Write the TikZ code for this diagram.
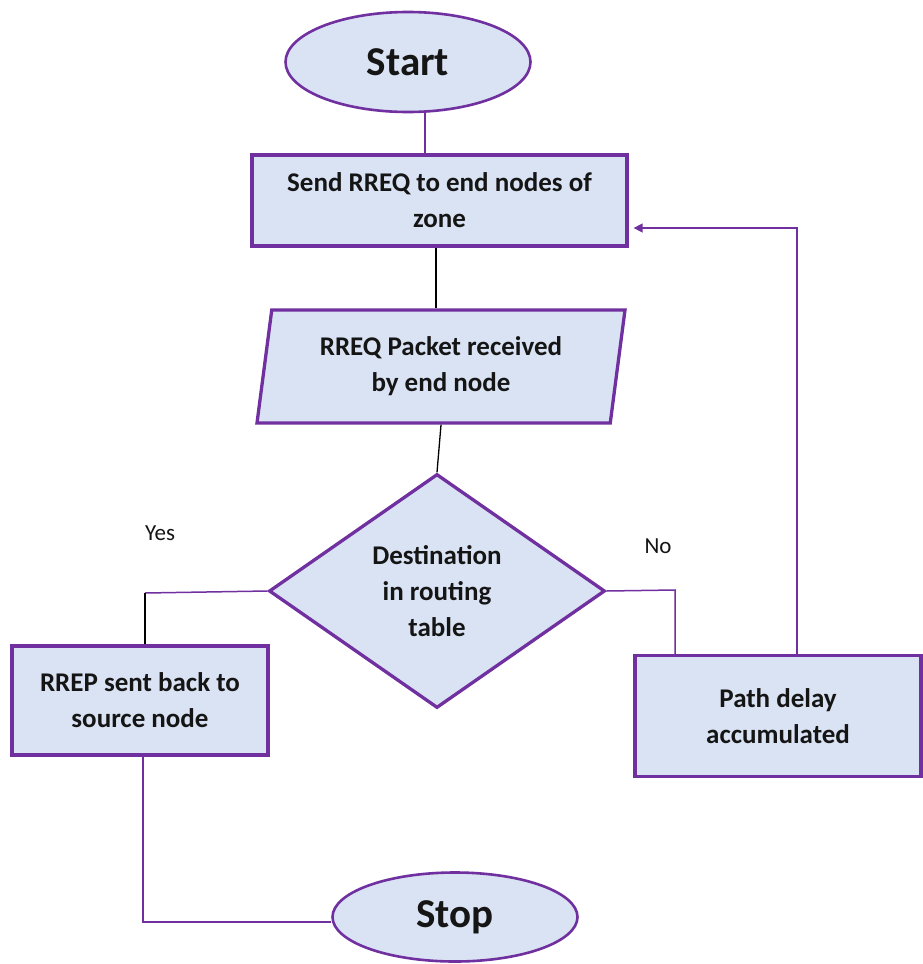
\documentclass[tikz,border=0pt]{standalone}
\usepackage{fontspec}
\setmainfont{Carlito}
\usetikzlibrary{shapes.geometric,arrows.meta,calc}
\definecolor{edge}{HTML}{7030A0}
\definecolor{body}{HTML}{DAE3F3}
\definecolor{ink}{HTML}{151515}
\begin{document}
\begin{tikzpicture}[x=1pt,y=-1pt,
  box/.style={draw=edge, fill=body, line width=3.3pt, align=center, text=ink,
    font=\fontsize{27}{36}\selectfont\bfseries, inner sep=0pt},
  term/.style={ellipse, draw=edge, fill=body, line width=2.6pt, text=ink,
    font=\fontsize{41}{46}\selectfont\bfseries, inner sep=0pt},
  link/.style={draw=edge, line width=1.5pt},
  plain/.style={draw=black, line width=1.3pt},
  lbl/.style={font=\fontsize{23}{26}\selectfont, text=ink}
]
\useasboundingbox (0,0) rectangle (922,964);

% terminals, process boxes, input/output and decision
\node[term, minimum width=245, minimum height=100] (start) at (408,62) {Start};
\node[box, minimum width=375, minimum height=91] (send) at (439.5,200.5)
  {Send RREQ to end nodes of\\zone};
\node[box, trapezium, trapezium left angle=76, trapezium right angle=104,
  trapezium stretches body, minimum width=368, minimum height=113]
  (recv) at (441,366.5) {RREQ Packet received\\by end node};
\node[box, diamond, aspect=1.44, minimum width=336, minimum height=234]
  (dec) at (437,591) {Destination\\in routing\\table};
\node[box, minimum width=256, minimum height=109] (rrep) at (140,700.5)
  {RREP sent back to\\source node};
\node[box, minimum width=286, minimum height=121] (delay) at (778,716)
  {Path delay\\accumulated};
\node[term, minimum width=245, minimum height=89] (stop) at (455,917)
  {\raisebox{-3pt}{Stop}};

% branch labels
\node[lbl] (yes) at (160,533) {Yes};
\node[lbl] (no) at (658,546) {No};

% bend points of the connectors
\coordinate (yesbend) at (145,593);
\coordinate (nobend) at (675,590);
\coordinate (stopbend) at (143,922);
\coordinate (back) at ($(send.east)+(5,27.5)$);

% connectors
\draw[link] ([xshift=17pt]start.south) -- ([xshift=17pt]start.south |- send.north);
\draw[plain] ([xshift=-3.5pt]send.south) -- ([xshift=-3.5pt]send.south |- recv.north);
\draw[plain] (recv.south) -- (dec.north);
\draw[link] (dec.west) -- (yesbend);
\draw[plain] (yesbend) -- (yesbend |- rrep.north);
\draw[link] (dec.east) -- (nobend) -- (nobend |- delay.north);
\draw[link, -{Triangle[length=9pt,width=9pt]}] ([xshift=19pt]delay.north) |- (back);
\draw[link] ([xshift=3pt]rrep.south) -- (stopbend) -- (stopbend -| stop.west);
\end{tikzpicture}
\end{document}
